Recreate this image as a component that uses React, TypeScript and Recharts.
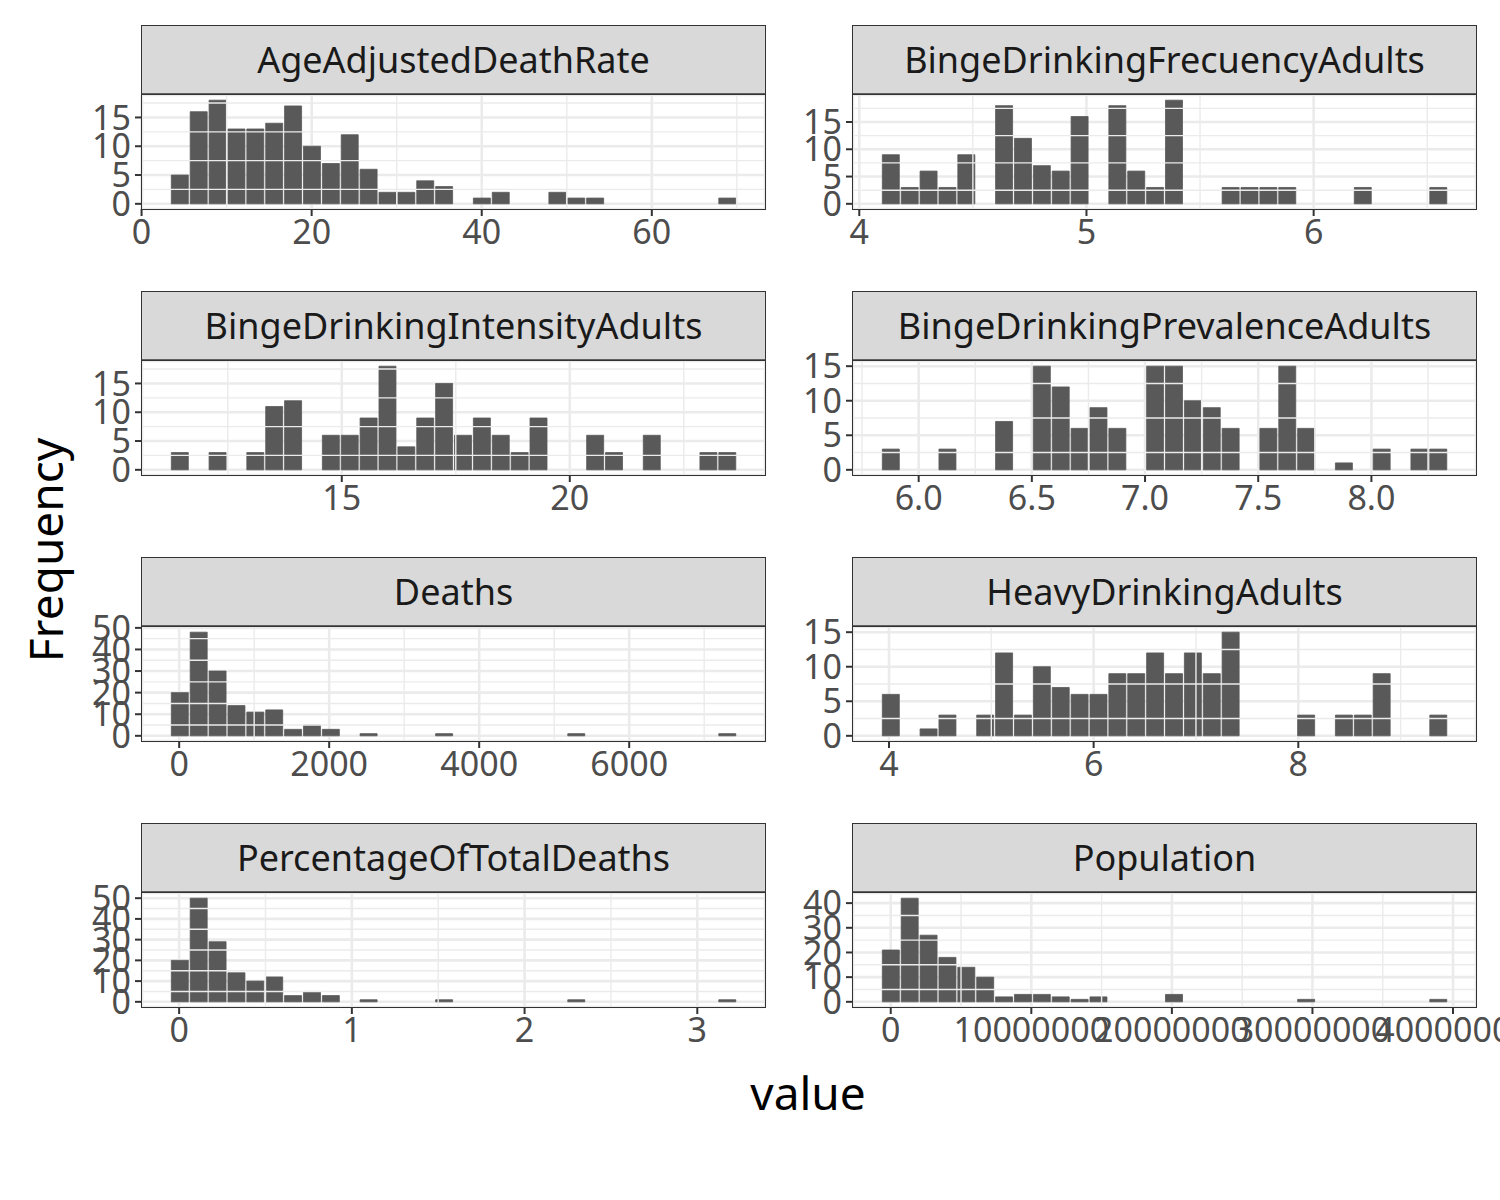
import React from 'react'
import { BarChart, Bar, XAxis, YAxis, CartesianGrid, ReferenceLine } from 'recharts'

const FONT = '"Noto Sans", "Open Sans", sans-serif'

// histogram counts, 30 bins each
const ageAdjustedCounts = [5, 16, 18, 13, 13, 14, 17, 10, 7, 12, 6, 2, 2, 4, 3, 0, 1, 2, 0, 0, 2, 1, 1, 0, 0, 0, 0, 0, 0, 1]
const bingeFreqCounts = [9, 3, 6, 3, 9, 0, 18, 12, 7, 6, 16, 0, 18, 6, 3, 19, 0, 0, 3, 3, 3, 3, 0, 0, 0, 3, 0, 0, 0, 3]
const bingeIntensityCounts = [3, 0, 3, 0, 3, 11, 12, 0, 6, 6, 9, 18, 4, 9, 15, 6, 9, 6, 3, 9, 0, 0, 6, 3, 0, 6, 0, 0, 3, 3]
const bingePrevCounts = [3, 0, 0, 3, 0, 0, 7, 0, 15, 12, 6, 9, 6, 0, 15, 15, 10, 9, 6, 0, 6, 15, 6, 0, 1, 0, 3, 0, 3, 3]
const deathsCounts = [20, 48, 30, 14, 11, 12, 3, 5, 3, 0, 1, 0, 0, 0, 1, 0, 0, 0, 0, 0, 0, 1, 0, 0, 0, 0, 0, 0, 0, 1]
const heavyCounts = [6, 0, 1, 3, 0, 3, 12, 3, 10, 7, 6, 6, 9, 9, 12, 9, 12, 9, 15, 0, 0, 0, 3, 0, 3, 3, 9, 0, 0, 3]
const pctCounts = [20, 50, 29, 14, 10, 12, 3, 5, 3, 0, 1, 0, 0, 0, 1, 0, 0, 0, 0, 0, 0, 1, 0, 0, 0, 0, 0, 0, 0, 1]
const popCounts = [21, 42, 27, 18, 14, 10, 2, 3, 3, 2, 1, 2, 0, 0, 0, 3, 0, 0, 0, 0, 0, 0, 1, 0, 0, 0, 0, 0, 0, 1]

// bin start and bin width per variable
const ageAdjustedBins = { start: 3.38, width: 2.22 }
const bingeFreqBins = { start: 4.097, width: 0.0831 }
const bingeIntensityBins = { start: 11.24, width: 0.414 }
const bingePrevBins = { start: 5.835, width: 0.0834 }
const deathsBins = { start: -118, width: 251.7 }
const heavyBins = { start: 3.925, width: 0.1845 }
const pctBins = { start: -0.051, width: 0.1093 }
const popBins = { start: -670000, width: 1343000 }

const ticks5 = [0, 5, 10, 15]
const minor5 = [2.5, 7.5, 12.5, 17.5]
const ticks10 = [0, 10, 20, 30, 40, 50]
const minor10 = [5, 15, 25, 35, 45]
const ticks10to40 = [0, 10, 20, 30, 40]

const PLOT_W = 623
const PLOT_H = 114
const AXIS_W = 70
const PAD_TOP = 20
const PAD_RIGHT = 60

type PanelProps = {
  title: string
  counts: number[]
  bins: { start: number; width: number }
  xTicks: number[]
  xMinor: number[]
  yTicks: number[]
  yMinor: number[]
  left: number
  top: number
  xFmt?: (v: number) => string
}

function Panel({ title, counts, bins, xTicks, xMinor, yTicks, yMinor, left, top, xFmt }: PanelProps) {
  const data = counts.map((c, i) => ({ x: bins.start + (i + 0.5) * bins.width, n: c }))
  const range = bins.width * counts.length
  const xDomain = [bins.start - 0.05 * range, bins.start + 1.05 * range]
  const max = Math.max(...counts)
  const yDomain = [-0.05 * max, 1.05 * max]
  const tick = { fill: '#4d4d4d', fontSize: 34, fontFamily: FONT }
  return (
    <>
      <div
        style={{
          position: 'absolute',
          left: left - 1,
          top: top - 70,
          width: PLOT_W,
          height: 67,
          background: '#d9d9d9',
          border: '1.5px solid #333',
          display: 'flex',
          alignItems: 'center',
          justifyContent: 'center',
          fontFamily: FONT,
          fontSize: 36,
          color: '#1a1a1a',
        }}
      >
        {title}
      </div>
      <div style={{ position: 'absolute', left: left - AXIS_W, top: top - PAD_TOP }}>
        <BarChart
          width={AXIS_W + PLOT_W + PAD_RIGHT}
          height={PAD_TOP + PLOT_H + 60}
          data={data}
          margin={{ top: PAD_TOP, right: PAD_RIGHT, left: 0, bottom: 0 }}
          barCategoryGap={0}
          barGap={0}
        >
          <CartesianGrid stroke="#ebebeb" strokeWidth={2.6} />
          {xMinor.map((v) => (
            <ReferenceLine key={'x' + v} x={v} stroke="#ebebeb" strokeWidth={1.4} />
          ))}
          {yMinor.map((v) => (
            <ReferenceLine key={'y' + v} y={v} stroke="#ebebeb" strokeWidth={1.4} />
          ))}
          <XAxis
            dataKey="x"
            type="number"
            domain={xDomain}
            ticks={xTicks}
            interval={0}
            allowDataOverflow
            height={60}
            axisLine={false}
            tickLine={{ stroke: '#333', strokeWidth: 2 }}
            tickSize={7}
            tickMargin={4}
            tick={tick}
            tickFormatter={xFmt ?? ((v: number) => String(v))}
          />
          <YAxis
            type="number"
            domain={yDomain}
            ticks={yTicks}
            interval={0}
            allowDataOverflow
            width={AXIS_W}
            axisLine={false}
            tickLine={{ stroke: '#333', strokeWidth: 2 }}
            tickSize={7}
            tickMargin={4}
            tick={tick}
          />
          <Bar dataKey="n" fill="#595959" stroke="#595959" strokeWidth={0.8} barSize={PLOT_W / 33} isAnimationActive={false} />
        </BarChart>
      </div>
      <div
        style={{
          position: 'absolute',
          left: left - 1,
          top: top - 1,
          width: PLOT_W,
          height: PLOT_H,
          border: '1.5px solid #333',
          pointerEvents: 'none',
        }}
      />
    </>
  )
}

const LEFT_A = 142
const LEFT_B = 853
const ROWS = [95, 361, 627, 893]

export default function App() {
  return (
    <div style={{ position: 'absolute', left: 0, top: 0, width: 1500, height: 1200, background: '#fff', overflow: 'hidden' }}>
      <Panel title="AgeAdjustedDeathRate" counts={ageAdjustedCounts} bins={ageAdjustedBins}
        xTicks={[0, 20, 40, 60]} xMinor={[10, 30, 50, 70]} yTicks={ticks5} yMinor={minor5} left={LEFT_A} top={ROWS[0]} />
      <Panel title="BingeDrinkingFrecuencyAdults" counts={bingeFreqCounts} bins={bingeFreqBins}
        xTicks={[4, 5, 6]} xMinor={[4.5, 5.5, 6.5]} yTicks={ticks5} yMinor={minor5} left={LEFT_B} top={ROWS[0]} />
      <Panel title="BingeDrinkingIntensityAdults" counts={bingeIntensityCounts} bins={bingeIntensityBins}
        xTicks={[15, 20]} xMinor={[12.5, 17.5, 22.5]} yTicks={ticks5} yMinor={minor5} left={LEFT_A} top={ROWS[1]} />
      <Panel title="BingeDrinkingPrevalenceAdults" counts={bingePrevCounts} bins={bingePrevBins}
        xTicks={[6, 6.5, 7, 7.5, 8]} xMinor={[5.75, 6.25, 6.75, 7.25, 7.75, 8.25]} yTicks={ticks5} yMinor={minor5}
        left={LEFT_B} top={ROWS[1]} xFmt={(v) => v.toFixed(1)} />
      <Panel title="Deaths" counts={deathsCounts} bins={deathsBins}
        xTicks={[0, 2000, 4000, 6000]} xMinor={[1000, 3000, 5000, 7000]} yTicks={ticks10} yMinor={minor10}
        left={LEFT_A} top={ROWS[2]} />
      <Panel title="HeavyDrinkingAdults" counts={heavyCounts} bins={heavyBins}
        xTicks={[4, 6, 8]} xMinor={[5, 7, 9]} yTicks={ticks5} yMinor={minor5} left={LEFT_B} top={ROWS[2]} />
      <Panel title="PercentageOfTotalDeaths" counts={pctCounts} bins={pctBins}
        xTicks={[0, 1, 2, 3]} xMinor={[0.5, 1.5, 2.5]} yTicks={ticks10} yMinor={minor10} left={LEFT_A} top={ROWS[3]} />
      <Panel title="Population" counts={popCounts} bins={popBins}
        xTicks={[0, 10000000, 20000000, 30000000, 40000000]} xMinor={[5000000, 15000000, 25000000, 35000000]}
        yTicks={ticks10to40} yMinor={[5, 15, 25, 35]} left={LEFT_B} top={ROWS[3]} />
      <div style={{ position: 'absolute', left: 45, top: 550, transform: 'translate(-50%, -50%) rotate(-90deg)', fontFamily: FONT, fontSize: 46, color: '#000', whiteSpace: 'nowrap' }}>
        Frequency
      </div>
      <div style={{ position: 'absolute', left: 808, top: 1092, transform: 'translate(-50%, -50%)', fontFamily: FONT, fontSize: 46, color: '#000' }}>
        value
      </div>
    </div>
  )
}
